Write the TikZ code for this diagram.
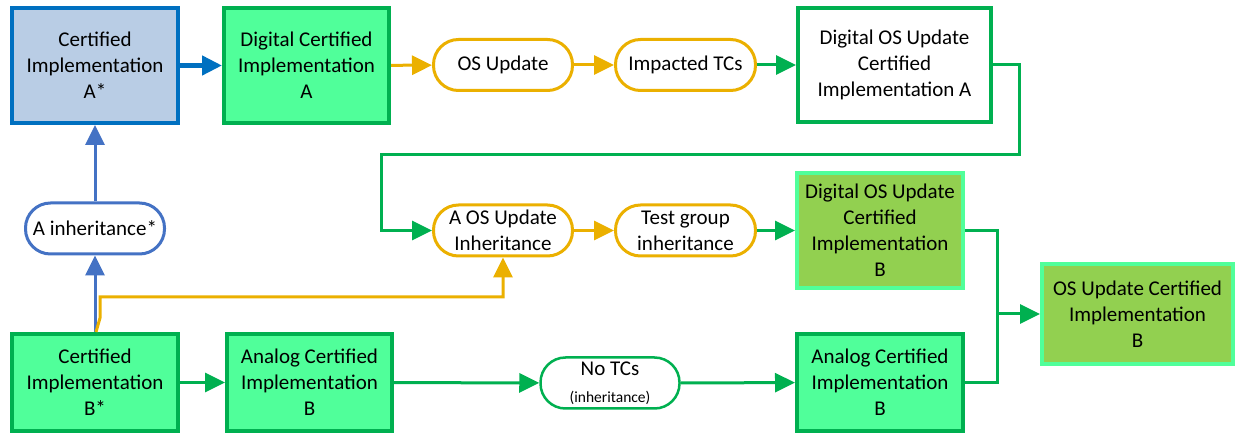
\documentclass[tikz,border=0pt]{standalone}
\usepackage{fontspec}
\setmainfont{Carlito}
\usetikzlibrary{arrows.meta}
\definecolor{mint}{HTML}{50FF9A}
\definecolor{gborder}{HTML}{00B050}
\definecolor{olive}{HTML}{92D050}
\definecolor{lblue}{HTML}{B9CDE5}
\definecolor{dblue}{HTML}{0070C0}
\definecolor{mblue}{HTML}{4472C4}
\definecolor{orng}{HTML}{EBB000}
\tikzset{
  txt/.style={font=\fontsize{21}{26}\selectfont, align=center, text=black, inner sep=0pt},
  box/.style={txt, rectangle, draw, line width=4pt},
  pill/.style={txt, rectangle, draw, fill=white, line width=3pt, rounded corners=25pt, minimum width=139pt, minimum height=51pt},
  conn/.style={line width=3pt, -{Triangle[length=20pt,width=19pt]}},
  plain/.style={line width=3pt},
}
\begin{document}
\begin{tikzpicture}[x=1pt,y=-1pt]
\useasboundingbox (0,0) rectangle (1235,435);
% boxes
\node[box, fill=lblue, draw=dblue, minimum width=166pt, minimum height=115pt] (As) at (95,65.5) {Certified\\Implementation\\A*};
\node[box, fill=mint, draw=gborder, minimum width=165pt, minimum height=115pt] (DA) at (306.5,65.5) {Digital Certified\\Implementation\\A};
\node[pill, draw=orng] (OSU) at (503,65) {OS Update};
\node[pill, draw=orng, minimum width=140pt] (ITC) at (685.5,65) {Impacted TCs};
\node[box, fill=white, draw=gborder, minimum width=193pt, minimum height=114pt] (DOA) at (894.5,65) {Digital OS Update\\Certified\\Implementation A};
\node[pill, draw=mblue] (Ainh) at (95,228.5) {A inheritance*};
\node[pill, draw=orng] (AOS) at (503,230.5) {A OS Update\\Inheritance};
\node[pill, draw=orng, minimum width=140pt] (TGI) at (685.5,230.5) {Test group\\inheritance};
\node[box, fill=olive, draw=mint, minimum width=166pt, minimum height=115pt] (DOB) at (880,230.5) {Digital OS Update\\Certified\\Implementation\\B};
\node[box, fill=olive, draw=mint, minimum width=191pt, minimum height=100pt] (OSB) at (1137.5,314) {OS Update Certified\\Implementation\\B};
\node[box, fill=mint, draw=gborder, minimum width=166pt, minimum height=97pt] (Bs) at (95,382.5) {Certified\\Implementation\\B*};
\node[box, fill=mint, draw=gborder, minimum width=165pt, minimum height=97pt] (AB1) at (309.5,382.5) {Analog Certified\\Implementation\\B};
\node[box, fill=mint, draw=gborder, minimum width=166pt, minimum height=97pt] (AB2) at (880,382.5) {Analog Certified\\Implementation\\B};
\node[pill, draw=gborder, line width=2.5pt] (NoTC) at (610,383) {No TCs\\[1pt]{\fontsize{15.5}{17}\selectfont (inheritance)}};
% coordinates
\coordinate (g1) at (1019,155);
\coordinate (g2) at (381,155);
\coordinate (j) at (997,314);
\coordinate (o1) at (100,318);
\coordinate (o2) at (100,297);
% connectors
\draw[conn, dblue, line width=4.5pt] (As) -- (DA);
\draw[conn, orng] (DA) -- (OSU);
\draw[conn, orng] (OSU) -- (ITC);
\draw[conn, gborder] (ITC) -- (DOA);
\draw[conn, gborder] (DOA.east) -| (g1) -- (g2) |- (AOS.west);
\draw[conn, orng] (AOS) -- (TGI);
\draw[conn, gborder] (TGI) -- (DOB);
\draw[plain, gborder] (DOB.east) -| (j);
\draw[plain, gborder] (AB2.east) -| (j);
\draw[conn, gborder] (j) -- (OSB.west);
\draw[conn, mblue] (Bs.north) -- (Ainh.south);
\draw[conn, mblue] (Ainh.north) -- (As.south);
\draw[conn, orng] ([xshift=1pt]Bs.north) -- (o1) -- (o2) -| (AOS.south);
\draw[conn, gborder] (Bs) -- (AB1);
\draw[conn, gborder] (AB1) -- (NoTC);
\draw[conn, gborder] (NoTC) -- (AB2);
\end{tikzpicture}
\end{document}
